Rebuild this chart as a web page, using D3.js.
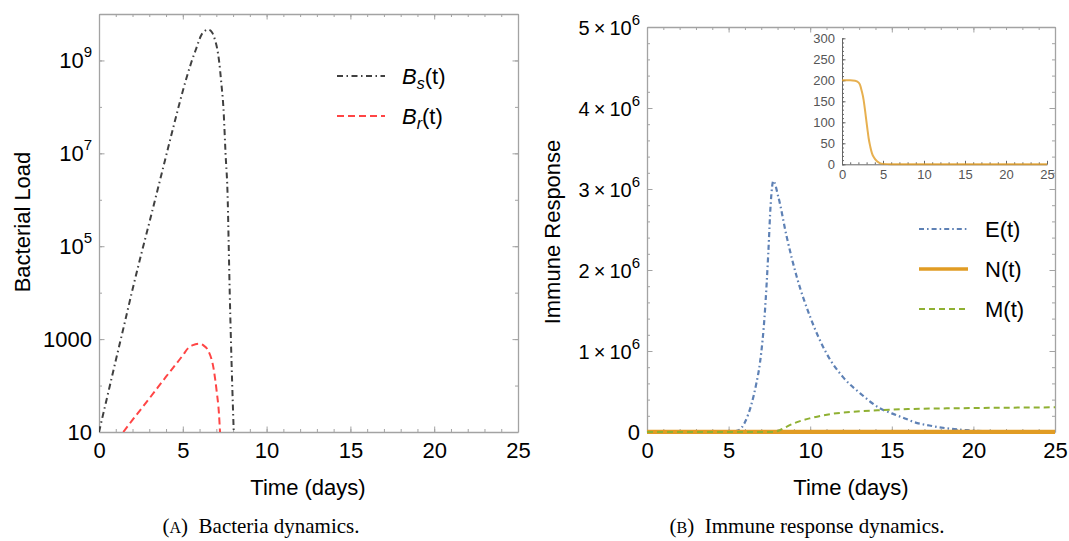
<!DOCTYPE html>
<html><head><meta charset="utf-8">
<script src="https://cdn.jsdelivr.net/npm/d3@7"></script>
<style>
body{margin:0;background:#fff}
svg{display:block}
text{font-family:"Liberation Sans",Arial,sans-serif}
</style>
</head><body>
<svg id="fig" width="1069" height="541"></svg>
<script>
// ---------- data ----------
// (A) bacteria, sensitive and resistant strains
const timeBs = [0, 0.5, 1, 1.5, 2, 2.5, 3, 3.5, 4, 4.5, 5, 5.5, 5.8, 6.1, 6.3, 6.53, 6.75, 6.93, 7.05, 7.16, 7.3, 7.42, 7.55, 7.68, 7.74, 7.8, 7.87, 7.95, 8.04];
const bacteriaS = [10, 59, 347, 2.0e3, 1.17e4, 6.3e4, 3.2e5, 1.66e6, 8.7e6, 4.5e7, 2.2e8, 8.9e8, 1.8e9, 3.5e9, 4.3e9, 4.6e9, 4.0e9, 2.7e9, 1.8e9, 1.0e9, 3.2e8, 1.0e8, 1.0e7, 1.0e6, 1.0e5, 1.0e4, 1.0e3, 100, 10];
const timeBr = [1.45, 2, 3, 4, 5, 5.33, 5.6, 5.99, 6.25, 6.53, 6.83, 7.02, 7.16, 7.22];
const bacteriaR = [10, 18.2, 52.5, 155, 447, 646, 741, 794, 724, 550, 240, 76, 24, 10];

// (B) immune response
const timeE = [0, 5, 5.6, 6.0, 6.41, 6.7, 6.92, 7.23, 7.43, 7.58, 7.74, 8.05, 8.56, 9.17, 10, 11, 12, 13.05, 14.3, 15, 15.9, 16.3, 17.3, 18.4, 19.8, 21, 22, 25];
const effectorE = [0, 0, 0.02e6, 0.12e6, 0.35e6, 0.6e6, 0.85e6, 1.5e6, 2.2e6, 2.82e6, 3.10e6, 2.9e6, 2.41e6, 1.92e6, 1.42e6, 0.97e6, 0.68e6, 0.48e6, 0.29e6, 0.23e6, 0.16e6, 0.127e6, 0.08e6, 0.045e6, 0.02e6, 0.005e6, 0, 0];
const timeN = [0, 1, 1.6, 2.0, 2.2, 2.4, 2.64, 2.8, 2.96, 3.1, 3.25, 3.45, 3.66, 3.9, 4.27, 4.6, 5, 6, 10, 15, 20, 25];
const neutroN = [200, 200, 199, 195, 189, 175, 153, 130, 105, 84, 62, 42, 26, 16, 7, 3, 1, 0, 0, 0, 0, 0];
const timeM = [0, 7.8, 8.0, 8.5, 9.0, 10, 11.2, 12.6, 14.3, 16, 18.4, 21, 25];
const memoryM = [0, 0, 0.01e6, 0.06e6, 0.107e6, 0.17e6, 0.22e6, 0.25e6, 0.27e6, 0.283e6, 0.292e6, 0.298e6, 0.305e6];

// tick labels
const xTickVals = [0, 5, 10, 15, 20, 25];
const leftTickVals = [10, 1e3, 1e5, 1e7, 1e9];
const leftTickText = ["10", "1000", "10^5", "10^7", "10^9"];
const rightTickVals = [0, 1e6, 2e6, 3e6, 4e6, 5e6];
const rightTickText = ["0", "1\u2009×\u200910^6", "2\u2009×\u200910^6", "3\u2009×\u200910^6", "4\u2009×\u200910^6", "5\u2009×\u200910^6"];
const insetYTicks = [0, 50, 100, 150, 200, 250, 300];
const insetXTicks = [0, 5, 10, 15, 20, 25];

// ---------- styles ----------
const frameColor = "#a3a3a3";
const colBs = "#404040", colBr = "#ff4545";
const colE = "#5e81b5", colN = "#e19c24", colM = "#8fb032";

const svg = d3.select("#fig");

function zipPts(ts, vs) { return ts.map((t, i) => [t, vs[i]]); }

function setLabel(textSel, str, baseSize, supSize) {
  textSel.each(function () {
    const el = d3.select(this);
    el.text(null);
    const parts = str.split("^");
    el.append("tspan").style("font-size", baseSize + "px").text(parts[0]);
    if (parts.length > 1) {
      el.append("tspan").attr("dy", -0.5 * baseSize).style("font-size", supSize + "px").text(parts[1]);
    }
  });
}

function styleAxis(g) {
  g.selectAll(".domain").attr("stroke", frameColor).attr("stroke-width", 1.3);
  g.selectAll(".tick line").attr("stroke", frameColor).attr("stroke-width", 1);
}

// draws framed axes with inward ticks on all four sides
function frame(x, y, xMinor, yMajor, yMinor) {
  const [x0, x1] = x.range(), [y0, y1] = y.range();
  const g = svg.append("g");
  const sides = [
    [d3.axisBottom, x, xTickVals, xMinor, `translate(0,${y0})`, true],
    [d3.axisTop, x, xTickVals, xMinor, `translate(0,${y1})`, false],
    [d3.axisLeft, y, yMajor, yMinor, `translate(${x0},0)`, true],
    [d3.axisRight, y, yMajor, yMinor, `translate(${x1},0)`, false]
  ];
  const out = {};
  sides.forEach(([ax, sc, major, minor, tr, labels], i) => {
    const gm = g.append("g").attr("transform", tr)
      .call(ax(sc).tickValues(minor).tickSizeInner(-3).tickSizeOuter(0).tickFormat(""));
    styleAxis(gm);
    const gM = g.append("g").attr("transform", tr)
      .call(ax(sc).tickValues(major).tickSizeInner(-5.5).tickSizeOuter(0).tickPadding(labels ? 10 : 0));
    styleAxis(gM);
    gM.select(".domain").remove();
    if (!labels) gM.selectAll(".tick text").remove();
    else gM.selectAll(".tick text").attr("fill", "#000").style("font-size", "22px");
    out[i] = gM;
  });
  return out;
}

// ================= (A) Bacteria dynamics =================
const xL = d3.scaleLinear().domain([0, 25]).range([99, 518]);
const yL = d3.scaleLog().domain([10, 1e10]).range([432, 14]);
const decades = d3.range(1, 11).map(k => Math.pow(10, k));
const fA = frame(xL, yL, d3.range(0, 26), leftTickVals, decades);
fA[2].selectAll(".tick text").attr("x", -7).each(function (d) {
  const i = leftTickVals.indexOf(d);
  setLabel(d3.select(this), leftTickText[i], 22, 15);
});

svg.append("clipPath").attr("id", "clipA").append("rect")
  .attr("x", 99).attr("y", 14).attr("width", 419).attr("height", 418);

const lineL = d3.line().x(d => xL(d[0])).y(d => yL(d[1])).curve(d3.curveMonotoneX);
const gA = svg.append("g").attr("clip-path", "url(#clipA)");
gA.append("path").datum(zipPts(timeBs, bacteriaS)).attr("d", lineL)
  .attr("fill", "none").attr("stroke", colBs).attr("stroke-width", 2).attr("stroke-dasharray", "6,3.5,1.5,3.5");
gA.append("path").datum(zipPts(timeBr, bacteriaR)).attr("d", lineL)
  .attr("fill", "none").attr("stroke", colBr).attr("stroke-width", 2).attr("stroke-dasharray", "7,4");

// legend (A)
const legA = [
  { sub: "s", color: colBs, dash: "6,3.5,1.5,3.5", y: 76 },
  { sub: "r", color: colBr, dash: "7,4", y: 116 }
];
legA.forEach(l => {
  svg.append("line").attr("x1", 337).attr("x2", 385).attr("y1", l.y).attr("y2", l.y)
    .attr("stroke", l.color).attr("stroke-width", 2).attr("stroke-dasharray", l.dash);
  const t = svg.append("text").attr("x", 402).attr("y", l.y + 8).style("font-size", "22px");
  t.append("tspan").style("font-style", "italic").text("B");
  t.append("tspan").attr("dy", 5).style("font-style", "italic").style("font-size", "16px").text(l.sub);
  t.append("tspan").attr("dy", -5).text("(t)");
});

// axis titles (A)
svg.append("text").attr("x", 308).attr("y", 495).attr("text-anchor", "middle").style("font-size", "22px").text("Time (days)");
svg.append("text").attr("transform", "translate(30,222) rotate(-90)").attr("text-anchor", "middle").style("font-size", "22px").text("Bacterial Load");

// ================= (B) Immune response dynamics =================
const xR = d3.scaleLinear().domain([0, 25]).range([647, 1055]);
const yR = d3.scaleLinear().domain([0, 5e6]).range([432, 27]);
const fB = frame(xR, yR, d3.range(0, 26), rightTickVals, d3.range(0, 5e6 + 1, 2e5));
fB[2].selectAll(".tick text").attr("x", -7).each(function (d) {
  const i = rightTickVals.indexOf(d);
  if (d === 0) setLabel(d3.select(this), rightTickText[i], 22, 15);
  else setLabel(d3.select(this), rightTickText[i], 20, 15);
});

svg.append("clipPath").attr("id", "clipB").append("rect")
  .attr("x", 647).attr("y", 27).attr("width", 408).attr("height", 407);
const lineR = d3.line().x(d => xR(d[0])).y(d => yR(d[1])).curve(d3.curveMonotoneX);
const gB = svg.append("g").attr("clip-path", "url(#clipB)");
gB.append("path").datum(zipPts(timeE, effectorE)).attr("d", lineR)
  .attr("fill", "none").attr("stroke", colE).attr("stroke-width", 2.2).attr("stroke-dasharray", "5,3,1.6,3");
gB.append("path").datum(zipPts(timeN, neutroN)).attr("d", lineR)
  .attr("fill", "none").attr("stroke", colN).attr("stroke-width", 4.5);
gB.append("path").datum(zipPts(timeM, memoryM)).attr("d", lineR)
  .attr("fill", "none").attr("stroke", colM).attr("stroke-width", 2).attr("stroke-dasharray", "6,4");

// legend (B)
const legB = [
  { label: "E(t)", color: colE, dash: "5,3,1.6,3", w: 2.2, y: 229 },
  { label: "N(t)", color: colN, dash: null, w: 3.5, y: 269 },
  { label: "M(t)", color: colM, dash: "6,4", w: 2, y: 309 }
];
legB.forEach(l => {
  svg.append("line").attr("x1", 919).attr("x2", 968).attr("y1", l.y).attr("y2", l.y)
    .attr("stroke", l.color).attr("stroke-width", l.w).attr("stroke-dasharray", l.dash);
  svg.append("text").attr("x", 985).attr("y", l.y + 8).style("font-size", "22px").text(l.label);
});

svg.append("text").attr("x", 851).attr("y", 495).attr("text-anchor", "middle").style("font-size", "22px").text("Time (days)");
svg.append("text").attr("transform", "translate(560,232) rotate(-90)").attr("text-anchor", "middle").style("font-size", "22px").text("Immune Response");

// ---- inset: N(t) on its own scale ----
const xI = d3.scaleLinear().domain([0, 25]).range([842, 1047]);
const yI = d3.scaleLinear().domain([0, 300]).range([164.3, 38.3]);
const insetGray = "#555";
const gIx = svg.append("g").attr("transform", "translate(0,164.3)");
gIx.call(d3.axisBottom(xI).tickValues(d3.range(0, 26)).tickSizeInner(-2).tickSizeOuter(0).tickFormat(""));
gIx.append("g").call(d3.axisBottom(xI).tickValues(insetXTicks).tickSizeInner(-3.5).tickSizeOuter(0).tickPadding(5))
  .call(g => g.select(".domain").remove());
const gIy = svg.append("g").attr("transform", "translate(842,0)");
gIy.call(d3.axisLeft(yI).tickValues(d3.range(0, 301, 10)).tickSizeInner(-2).tickSizeOuter(0).tickFormat(""));
gIy.append("g").call(d3.axisLeft(yI).tickValues(insetYTicks).tickSizeInner(-3.5).tickSizeOuter(0).tickPadding(7))
  .call(g => g.select(".domain").remove());
[gIx, gIy].forEach(g => {
  g.selectAll(".domain").attr("stroke", "#666").attr("stroke-width", 1);
  g.selectAll(".tick line").attr("stroke", "#666");
  g.selectAll(".tick text").attr("fill", insetGray).style("font-size", "13px").style("font-family", "Liberation Sans, Arial, sans-serif");
});
const lineI = d3.line().x(d => xI(d[0])).y(d => yI(d[1])).curve(d3.curveMonotoneX);
svg.append("path").datum(zipPts(timeN, neutroN)).attr("d", lineI)
  .attr("fill", "none").attr("stroke", colN).attr("stroke-opacity", 0.8).attr("stroke-width", 2);

// ---------- captions ----------
function caption(x, letter, rest) {
  const t = svg.append("text").attr("x", x).attr("y", 533).attr("text-anchor", "middle")
    .style("font-family", "'Liberation Serif','DejaVu Serif',serif").style("font-size", "21px");
  t.append("tspan").text("(");
  t.append("tspan").style("font-size", "16px").text(letter);
  t.append("tspan").text(")\u2002" + rest);
}
caption(261, "A", "Bacteria dynamics.");
caption(807, "B", "Immune response dynamics.");
</script>
</body></html>
